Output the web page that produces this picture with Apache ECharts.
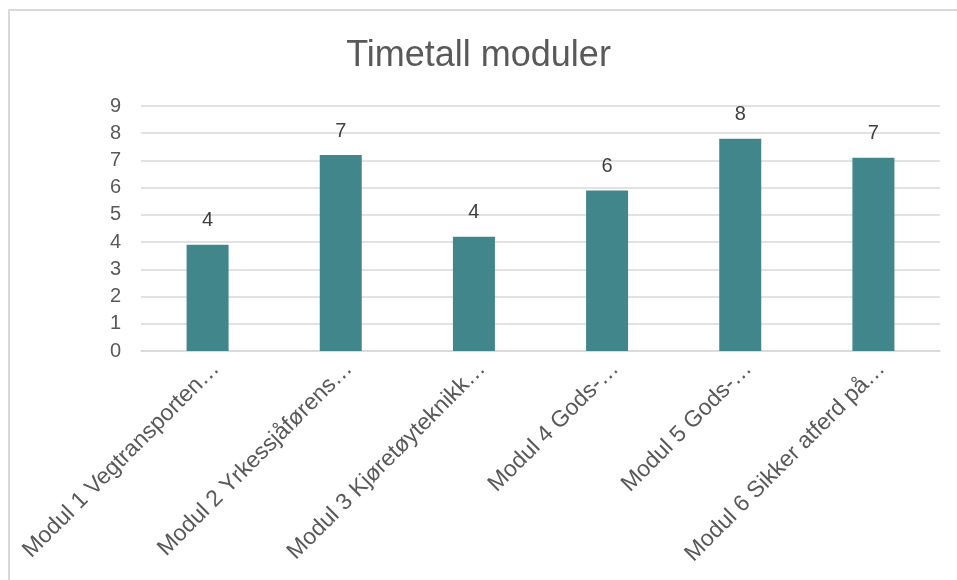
<!DOCTYPE html>
<html>
<head>
<meta charset="utf-8">
<script src="https://cdn.jsdelivr.net/npm/echarts@6/dist/echarts.min.js"></script>
<style>
  html, body { margin: 0; padding: 0; background: #fff; }
  #main { width: 957px; height: 580px; }
</style>
</head>
<body>
<div id="main"></div>
<script>
// kategorier og timer per modul
var moduler = [
	'Modul 1 Vegtransporten…',
	'Modul 2 Yrkessjåførens…',
	'Modul 3 Kjøretøyteknikk…',
	'Modul 4 Gods-…',
	'Modul 5 Gods-…',
	'Modul 6 Sikker atferd på…'
];
var timer = [3.9, 7.2, 4.2, 5.9, 7.8, 7.1];
var yTicks = [0, 9, 1]; // min, max, interval

var myChart = echarts.init(document.getElementById('main'));
var font = '"Liberation Sans", Arial, sans-serif';
var option = {
	title: {
		text: 'Timetall moduler',
		left: 'center',
		top: 33,
		textStyle: {
			fontFamily: font,
			fontSize: 36,
			fontWeight: 'normal',
			color: '#595959'
		}
	},
	graphic: [{
		type: 'rect',
		shape: { x: 9, y: 10, width: 1000, height: 700 },
		style: { fill: 'none', stroke: '#d9d9d9', lineWidth: 2 },
		silent: true
	}],
	grid: {
		left: 141,
		right: 17,
		top: 106,
		bottom: 229
	},
	xAxis: {
		type: 'category',
		data: moduler,
		axisTick: { show: false },
		axisLine: { lineStyle: { color: '#d9d9d9', width: 1.5 } },
		axisLabel: {
			rotate: 45,
			interval: 0,
			margin: 6,
			verticalAlign: 'top',
			fontFamily: font,
			fontSize: 23,
			color: '#595959'
		}
	},
	yAxis: {
		type: 'value',
		min: yTicks[0],
		max: yTicks[1],
		interval: yTicks[2],
		axisLine: { show: false },
		axisTick: { show: false },
		splitLine: { lineStyle: { color: '#d9d9d9', width: 1.5 } },
		axisLabel: {
			margin: 20,
			fontFamily: font,
			fontSize: 20,
			color: '#595959'
		}
	},
	series: [{
		name: 'Timer',
		type: 'bar',
		data: timer,
		barWidth: 42,
		itemStyle: { color: '#40868a' },
		label: {
			show: true,
			position: 'top',
			distance: 14,
			fontFamily: font,
			fontSize: 20,
			color: '#404040',
			formatter: function (p) { return Math.round(p.value); }
		}
	}]
};
myChart.setOption(option);
</script>
</body>
</html>
